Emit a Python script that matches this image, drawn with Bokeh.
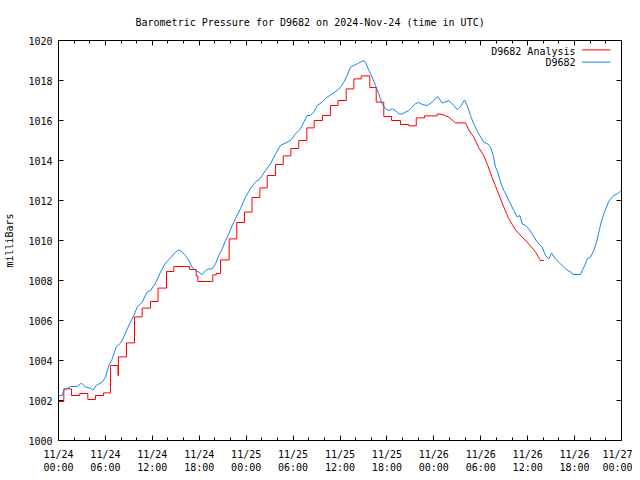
from bokeh.plotting import figure
from bokeh.models import Range1d, FixedTicker, LinearAxis, Label, Arrow
from bokeh.embed import file_html
from bokeh.resources import INLINE

# ---- data (hours since 2024-11-24 00:00 UTC, pressure in mb) ----
obs_hours = [0.0, 0.47, 0.68, 1.53, 2.39, 2.94, 3.45, 4.09, 4.39, 4.82, 5.59, 6.01, 6.43, 6.87,
             7.38, 7.93, 8.35, 8.79, 9.21, 9.63, 10.07, 10.70, 11.34, 11.77, 12.41, 13.05, 13.68,
             14.32, 14.96, 15.39, 15.82, 16.24, 16.66, 17.10, 17.52, 17.94, 18.38, 18.80, 19.22,
             19.66, 20.08, 20.50, 20.94, 21.36, 21.78, 22.22, 22.64, 23.28, 23.92, 24.56, 25.19,
             25.83, 26.47, 27.11, 27.75, 28.39, 29.25, 29.67, 30.31, 30.95, 31.37, 31.81, 32.23,
             32.65, 33.09, 33.73, 34.36, 35.00, 35.64, 36.07, 36.49, 36.92, 37.34, 37.77, 38.20,
             38.62, 39.05, 39.35, 39.69, 40.12, 40.54, 40.96, 41.40, 41.82, 42.24, 42.68, 43.10,
             43.52, 43.96, 44.38, 44.80, 45.24, 45.66, 46.08, 46.51, 47.15, 47.79, 48.51, 49.07,
             49.92, 50.56, 50.99, 51.41, 51.92, 52.27, 52.69, 53.11, 53.75, 54.39, 54.90, 55.25,
             55.60, 55.89, 56.18, 56.53, 56.95, 57.38, 57.81, 58.23, 58.66, 59.00, 59.30, 59.73,
             60.15, 60.58, 61.22, 61.86, 62.28, 62.71, 63.05, 63.56, 64.20, 64.84, 65.48, 65.90,
             66.76, 66.98, 67.40, 67.62, 68.04, 68.46, 68.81, 69.10, 69.41, 69.74, 70.08, 70.38,
             71.02, 71.45, 71.88]
obs_mb = [1002.25, 1002.25, 1002.5, 1002.7, 1002.7, 1002.87, 1002.67, 1002.62, 1002.5, 1002.75,
          1002.92, 1003.17, 1003.75, 1004.08, 1004.67, 1004.87, 1005.17, 1005.58, 1005.92, 1006.25,
          1006.67, 1006.92, 1007.42, 1007.5, 1007.87, 1008.42, 1008.87, 1009.13, 1009.42, 1009.53,
          1009.42, 1009.25, 1009.0, 1008.67, 1008.5, 1008.42, 1008.3, 1008.5, 1008.58, 1008.58,
          1008.83, 1009.25, 1009.58, 1010.0, 1010.33, 1010.75, 1011.1, 1011.6, 1012.17, 1012.6,
          1012.92, 1013.12, 1013.5, 1013.83, 1014.33, 1014.75, 1014.92, 1015.0, 1015.33, 1015.58,
          1015.92, 1016.25, 1016.25, 1016.42, 1016.75, 1016.92, 1017.17, 1017.33, 1017.5, 1017.67,
          1017.92, 1018.25, 1018.67, 1018.75, 1018.83, 1018.92, 1019.0, 1018.83, 1018.5, 1018.17,
          1017.75, 1017.33, 1016.83, 1016.58, 1016.5, 1016.58, 1016.5, 1016.33, 1016.33, 1016.42,
          1016.5, 1016.67, 1016.85, 1016.9, 1016.8, 1016.75, 1016.92, 1017.2, 1016.87, 1017.0,
          1016.75, 1016.55, 1016.7, 1017.03, 1016.75, 1016.25, 1015.83, 1015.33, 1014.92, 1014.83,
          1014.67, 1014.25, 1013.67, 1013.42, 1012.92, 1012.5, 1012.17, 1011.83, 1011.5, 1011.17,
          1011.25, 1010.83, 1010.75, 1010.58, 1010.33, 1009.92, 1009.67, 1009.25, 1009.08, 1009.37,
          1009.08, 1008.83, 1008.58, 1008.42, 1008.3, 1008.3, 1008.5, 1008.83, 1009.08, 1009.17,
          1009.5, 1009.92, 1010.42, 1010.92, 1011.33, 1011.67, 1011.97, 1012.25, 1012.33, 1012.47]

# hourly analysis (stepped)
ana_hours = [0.0, 0.68, 1.66, 2.72, 3.75, 4.73, 5.76, 6.65, 7.61, 7.67, 8.70, 9.72, 10.70, 11.77,
             12.73, 13.81, 14.75, 16.75, 17.61, 17.82, 19.73, 20.17, 20.72, 21.83, 22.80, 23.79,
             24.75, 25.75, 26.69, 27.75, 28.74, 29.71, 30.73, 31.76, 32.70, 33.76, 34.79, 35.75,
             36.79, 37.77, 38.71, 39.81, 40.63, 41.60, 42.59, 43.74, 44.80, 45.75, 46.81, 48.43]
ana_mb = [1001.95, 1002.58, 1002.25, 1002.35, 1002.05, 1002.25, 1002.38, 1003.75, 1003.25, 1004.18,
          1004.88, 1006.18, 1006.62, 1006.95, 1007.62, 1008.45, 1008.7, 1008.55, 1008.23, 1007.95,
          1008.28, 1008.35, 1009.03, 1010.08, 1010.9, 1011.42, 1012.15, 1012.63, 1013.25, 1013.8,
          1014.23, 1014.6, 1015.0, 1015.63, 1016.0, 1016.25, 1016.75, 1017.0, 1017.58, 1018.08,
          1018.23, 1017.65, 1016.92, 1016.2, 1016.0, 1015.8, 1015.73, 1016.13, 1016.23, 1016.33]
# finer analysis, later part
ana2_hours = [48.43, 49.07, 49.92, 50.77, 52.05, 52.47, 53.11, 53.75, 54.39, 54.90, 55.47, 55.89,
              56.53, 56.95, 57.59, 58.45, 59.30, 60.15, 61.01, 61.64, 62.07]
ana2_mb = [1016.33, 1016.3, 1016.17, 1015.88, 1015.88, 1015.53, 1015.17, 1014.63, 1014.25, 1013.75,
           1013.13, 1012.72, 1012.08, 1011.67, 1011.08, 1010.53, 1010.17, 1009.83, 1009.42, 1009.0,
           1009.0]

x_major = list(range(0, 73, 6))
x_minor = [h for h in range(0, 73, 2) if h % 6 != 0]
x_labels = ["11/24\n00:00", "11/24\n06:00", "11/24\n12:00", "11/24\n18:00",
            "11/25\n00:00", "11/25\n06:00", "11/25\n12:00", "11/25\n18:00",
            "11/26\n00:00", "11/26\n06:00", "11/26\n12:00", "11/26\n18:00", "11/27\n00:00"]
y_major = list(range(1000, 1021, 2))

FONT = "DejaVu Sans Mono"
RED = "#ff0000"
BLUE = "#1a84e8"

p = figure(frame_width=563, frame_height=400, output_backend="svg", toolbar_location=None,
           x_range=Range1d(0, 72), y_range=Range1d(1000, 1020),
           min_border_left=58, min_border_right=11, min_border_top=40, min_border_bottom=32,
           title="Barometric Pressure for D9682 on 2024-Nov-24 (time in UTC)")
p.title.text_font = FONT
p.title.text_font_size = "10px"
p.title.text_font_style = "normal"
p.title.text_color = "black"
p.title.align = "left"
p.title.offset = 77
p.title.standoff = 25
p.grid.visible = False
p.outline_line_color = "black"
p.outline_line_alpha = 1
p.background_fill_color = "white"
p.border_fill_color = "white"

xt = FixedTicker(ticks=x_major, minor_ticks=x_minor)
yt = FixedTicker(ticks=y_major, minor_ticks=[])
p.xaxis.ticker = xt
p.yaxis.ticker = yt
p.xaxis.major_label_overrides = {h: s for h, s in zip(x_major, x_labels)}
p.yaxis.axis_label = "milliBars"

for ax in (p.xaxis[0], p.yaxis[0]):
    ax.major_tick_in = 5
    ax.major_tick_out = 0
    ax.minor_tick_in = 3
    ax.minor_tick_out = 0
    ax.major_tick_line_color = "black"
    ax.minor_tick_line_color = "black"
    ax.major_label_text_font = FONT
    ax.major_label_text_font_size = "10px"
    ax.major_label_text_color = "black"
    ax.axis_label_text_font = FONT
    ax.axis_label_text_font_size = "10px"
    ax.axis_label_text_font_style = "normal"
    ax.axis_label_text_color = "black"
    ax.axis_line_color = "black"
p.xaxis.major_label_standoff = 8
p.yaxis.major_label_standoff = 6
p.yaxis.axis_label_standoff = 10

# mirrored ticks on top and right
top = LinearAxis(ticker=xt, major_label_overrides={h: "" for h in x_major},
                 major_tick_in=5, major_tick_out=0, minor_tick_in=3, minor_tick_out=0,
                 major_tick_line_color="black", minor_tick_line_color="black",
                 major_label_standoff=0)
right = LinearAxis(ticker=yt, major_label_overrides={v: "" for v in y_major},
                   major_tick_in=5, major_tick_out=0, minor_tick_in=3, minor_tick_out=0,
                   major_tick_line_color="black", minor_tick_line_color="black",
                   major_label_standoff=0)
p.add_layout(top, "above")
p.add_layout(right, "right")

p.step(ana_hours, ana_mb, mode="after", line_color=RED, line_width=1)
p.line(ana2_hours, ana2_mb, line_color=RED, line_width=1)
p.line(obs_hours, obs_mb, line_color=BLUE, line_width=1)

# legend (top right, text left of sample, as in reference)
p.add_layout(Label(x=66.12, y=1019.47, text="D9682 Analysis", text_align="right",
                   text_baseline="middle", text_font=FONT, text_font_size="10px",
                   text_color="black"))
p.add_layout(Label(x=66.12, y=1018.88, text="D9682", text_align="right",
                   text_baseline="middle", text_font=FONT, text_font_size="10px",
                   text_color="black"))
p.add_layout(Arrow(end=None, x_start=66.97, x_end=70.59, y_start=1019.53, y_end=1019.53,
                   line_color=RED, line_width=1))
p.add_layout(Arrow(end=None, x_start=66.97, x_end=70.59, y_start=1018.92, y_end=1018.92,
                   line_color=BLUE, line_width=1))

open("out.html", "w").write(file_html(p, INLINE))
